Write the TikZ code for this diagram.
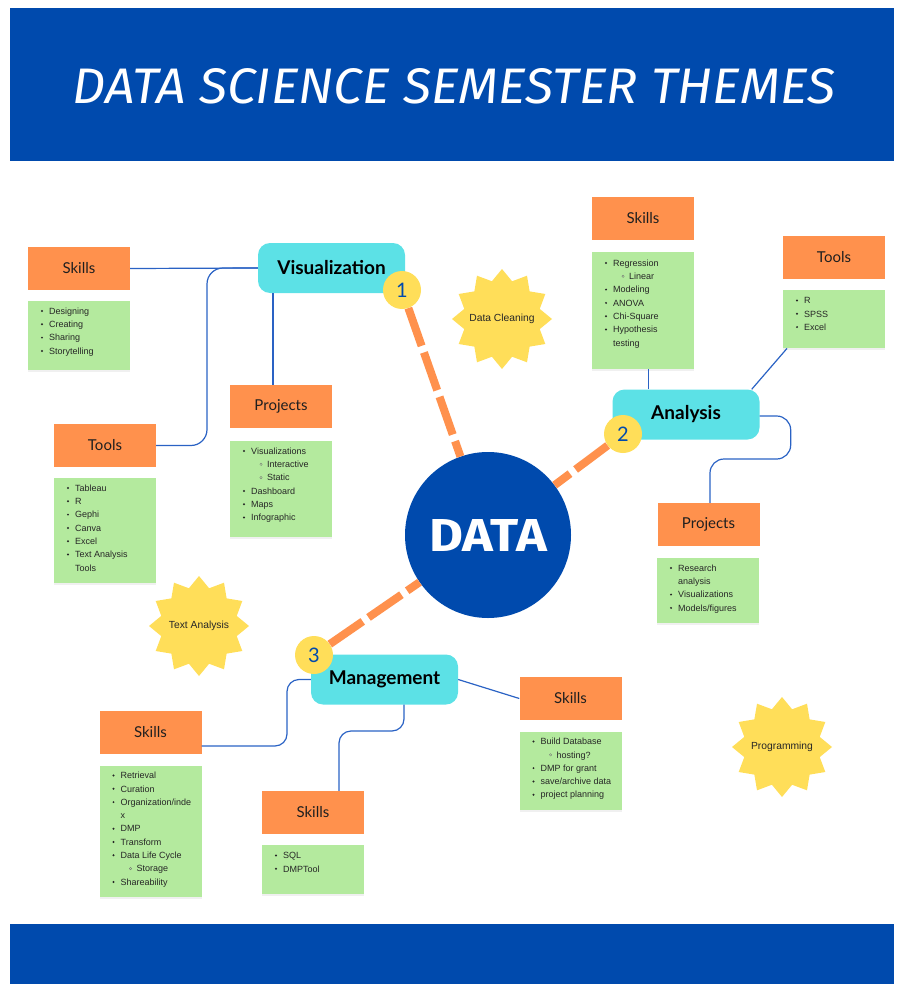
\documentclass[tikz,border=0pt]{standalone}
\usepackage{fontspec}
\usepackage{graphicx}
\setmainfont{Liberation Sans}
\newfontfamily\lato{Lato}
\newfontfamily\fira{Fira Sans}
\newfontfamily\dejavu{DejaVu Sans}
\usetikzlibrary{shapes.geometric,calc,shadows}
\definecolor{navy}{HTML}{004AAD}
\definecolor{orng}{HTML}{FF914D}
\definecolor{cyanb}{HTML}{5CE1E6}
\definecolor{yel}{HTML}{FFDE59}
\definecolor{grn}{HTML}{B4EA9E}
\definecolor{lnk}{HTML}{2A62C4}
\tikzset{
  head/.style={fill=orng, minimum width=102pt, minimum height=43pt, inner sep=0pt,
    font=\lato\fontsize{15}{15}\selectfont, text=black!88},
  gbox/.style={fill=grn, anchor=north west, minimum width=102pt, inner sep=0pt,
    drop shadow={opacity=0.12, shadow xshift=0pt, shadow yshift=-2pt}},
  theme/.style={fill=cyanb, rounded corners=12pt, minimum width=147pt, minimum height=50pt,
    inner sep=0pt, font=\lato\bfseries\fontsize{19}{19}\selectfont},
  numc/.style={circle, fill=yel, minimum size=38pt, inner sep=0pt, text=navy,
    font=\lato\fontsize{20}{20}\selectfont},
  burst/.style={star, star points=12, star point ratio=1.28, fill=yel, minimum size=100pt,
    inner sep=0pt, outer sep=0pt},
  bursttext/.style={inner sep=0pt, font=\fontsize{10.3}{10.3}\selectfont, text=black!85},
  li/.style={anchor=base west, inner sep=0pt, font=\fontsize{9}{9}\selectfont, text=black!85},
  conn/.style={draw=lnk, line width=1.2pt},
  dashl/.style={draw=orng, line width=8pt, dash pattern=on 40pt off 7pt},
}
\newcommand\Lb[3]{\fill[black!85] (#1+14,#2) circle (1.1); \node[li] at (#1+21,#2+3.2) {#3};}
\newcommand\Ls[3]{\draw[black!55, line width=0.35pt] (#1+31,#2) circle (1.2); \node[li] at (#1+37,#2+3.2) {#3};}
\newcommand\Lc[3]{\node[li] at (#1+21,#2+3.2) {#3};}
\newcommand\plist[3]{\foreach \k/\t [count=\i from 0] in {#3}{\pgfmathsetmacro\yy{#2+10+13.3*\i}\csname L\k\endcsname{#1}{\yy}{\t}}}
\begin{document}
\begin{tikzpicture}[x=1pt, y=-1pt]
\useasboundingbox (0,0) rectangle (902,995);
% banners
\fill[navy] (10,8) rectangle (894,161);
\fill[navy] (10,924) rectangle (894,984);
\node[inner sep=0pt] (title) at (454,86) {\resizebox{762pt}{35pt}{\color{white}\fira\itshape DATA SCIENCE SEMESTER THEMES}};
% center
\node[circle, fill=navy, minimum size=166pt, inner sep=0pt] (data) at (488,535)
  {\resizebox{118pt}{32pt}{\color{white}\fira\bfseries DATA}};
% Visualization cluster
\node[head] (vsk) at (79,268.5) {Skills};
\node[gbox, minimum height=69pt] (vskg) at (28,301) {};
\node[head] (vtl) at (105,445.5) {Tools};
\node[gbox, minimum height=105pt] (vtlg) at (54,478) {};
\node[head] (vpr) at (281,406.5) {Projects};
\node[gbox, minimum height=96pt] (vprg) at (230,441) {};
\node[theme] (vis) at (331.5,268) {Visualization};
% Analysis cluster
\node[head] (ask) at (643,218.5) {Skills};
\node[gbox, minimum height=117pt] (askg) at (592,252) {};
\node[head] (atl) at (834,257.5) {Tools};
\node[gbox, minimum height=58pt] (atlg) at (783,290) {};
\node[theme] (ana) at (686,414.5) {Analysis};
\node[head] (apr) at (708.5,524.5) {Projects};
\node[gbox, minimum height=65pt] (aprg) at (657,558) {};
% Management cluster
\node[theme] (mgt) at (384.5,679.5) {Management};
\node[head] (msk1) at (150.5,732.5) {Skills};
\node[gbox, minimum height=131pt] (msk1g) at (99.5,766) {};
\node[head] (msk2) at (313,812.5) {Skills};
\node[gbox, minimum height=49pt] (msk2g) at (262,845) {};
\node[head] (msk3) at (570.5,698.5) {Skills};
\node[gbox, minimum height=78pt] (msk3g) at (519.5,732) {};
% stars
\node[burst] (s1) at (502,319) {};
\node[bursttext] (s1t) at (s1.center) {Data Cleaning};
\node[burst] (s2) at (199,626) {};
\node[bursttext] (s2t) at (s2.center) {Text Analysis};
\node[burst] (s3) at (782,747) {};
\node[bursttext] (s3t) at (s3.center) {Programming};
% lists
\plist{28}{301}{b/Designing,b/Creating,b/Sharing,b/Storytelling}
\plist{54}{478}{b/Tableau,b/R,b/Gephi,b/Canva,b/Excel,b/Text Analysis,c/Tools}
\plist{230}{441}{b/Visualizations,s/Interactive,s/Static,b/Dashboard,b/Maps,b/Infographic}
\plist{592}{253}{b/Regression,s/Linear,b/Modeling,b/ANOVA,b/Chi-Square,b/Hypothesis,c/testing}
\plist{783}{290.5}{b/R,b/SPSS,b/Excel}
\plist{657}{558}{b/Research,c/analysis,b/Visualizations,b/{Models/figures}}
\plist{99.5}{765.5}{b/Retrieval,b/Curation,b/{Organization/inde},c/x,b/DMP,b/Transform,b/Data Life Cycle,s/Storage,b/Shareability}
\plist{262}{845.5}{b/SQL,b/DMPTool}
\plist{519.5}{731.5}{b/Build Database,s/hosting?,b/DMP for grant,b/{save/archive data},b/project planning}
% connectors
\draw[conn] (vsk.east) -- (vis.west);
\draw[conn, rounded corners=16pt] (vtl.east) -- (207,445.5) -- (207,268) -- (vis.west);
\draw[conn] ([xshift=-58.5pt]vis.south) coordinate (pv) -- (pv |- vpr.north);
\draw[conn] ([xshift=36pt]ana.north west) coordinate (pa) -- (pa |- askg.south);
\draw[conn] ([xshift=-8pt]ana.north east) -- ([xshift=4pt]atlg.south west);
\draw[conn, rounded corners=14pt] ([yshift=-1.5pt]ana.east) -- ++(31,0) -- ++(0,43) -| ([xshift=1.5pt]apr.north);
\draw[conn, rounded corners=12pt] ([yshift=-13.5pt]msk1.east) -- (287,746) -- (287,679.5) -- (mgt.west);
\draw[conn, rounded corners=12pt] ([xshift=19.5pt]mgt.south) -- (404,731) -- (339,731) -- ([xshift=26pt]msk2.north);
\draw[conn] (mgt.east) -- (msk3.west);
% numbered circles and dashed links
\node[numc] (n1) at (402,290) {1};
\node[numc] (n2) at (623,434) {2};
\node[numc] (n3) at (314,655) {3};
\draw[dashl] (n1) -- (data);
\draw[dashl] (n2) -- (data);
\draw[dashl] (n3) -- (data);
\end{tikzpicture}
\end{document}
